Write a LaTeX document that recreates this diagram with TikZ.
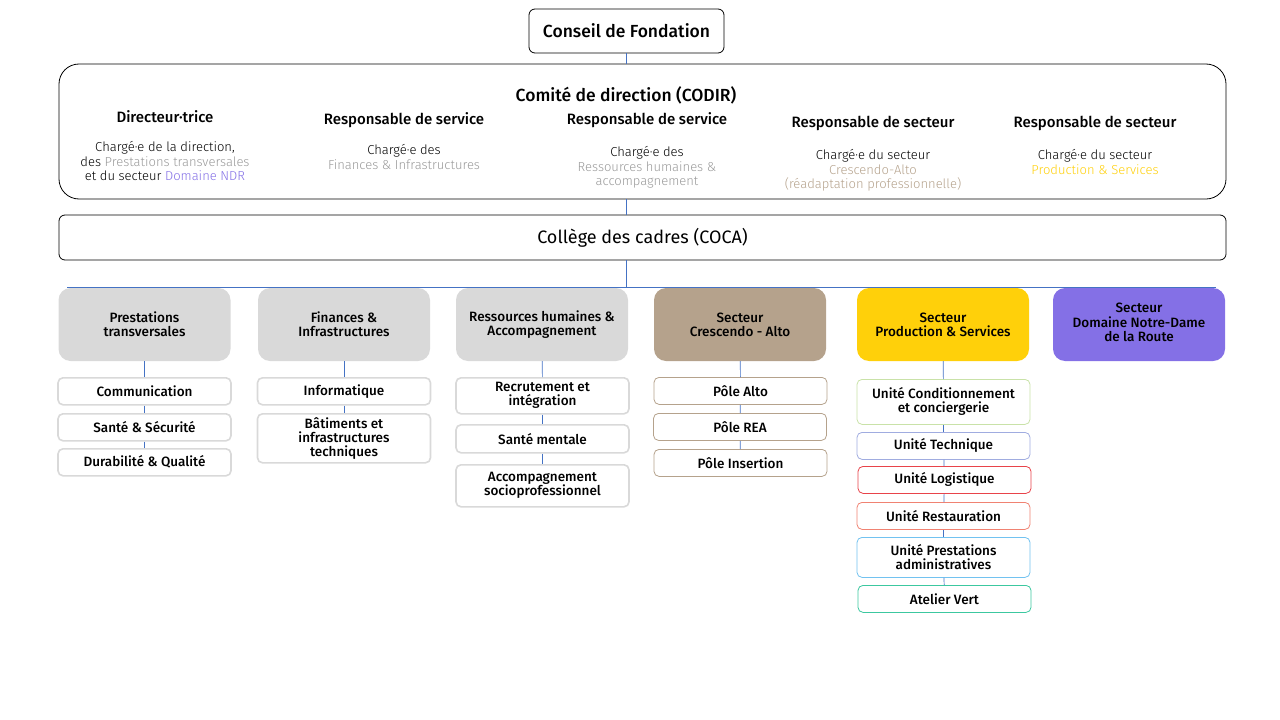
\documentclass[tikz,border=0pt]{standalone}
\usepackage{fontspec}
\setmainfont{Fira Sans}[BoldFont={Fira Sans Medium}]
\newfontfamily\lightfont{Fira Sans Light}
\usetikzlibrary{positioning}
\definecolor{linkblue}{HTML}{4472C4}
\definecolor{boxgray}{HTML}{D9D9D9}
\definecolor{descgray}{HTML}{9A9A9A}
\definecolor{crescendo}{HTML}{B5A28C}
\definecolor{production}{HTML}{FFD00A}
\definecolor{domaine}{HTML}{8470E6}
\definecolor{ucond}{HTML}{C9E2A8}
\definecolor{utech}{HTML}{A0ACE0}
\definecolor{ulog}{HTML}{E8434A}
\definecolor{urest}{HTML}{F08272}
\definecolor{uadmin}{HTML}{72C2F0}
\definecolor{uvert}{HTML}{3CC8A0}

\begin{document}
\begin{tikzpicture}[x=1pt,y=-1pt,
    box/.style={draw, rounded corners=6pt, line width=0.8pt},
    role/.style={font=\fontsize{15}{17}\selectfont\bfseries, align=center},
    desc/.style={font=\fontsize{13}{14.5}\lightfont, align=center, anchor=north},
    dept/.style={rounded corners=12pt, minimum width=172pt, minimum height=73pt,
        align=center, font=\fontsize{13.5}{14}\selectfont\bfseries, inner sep=2pt},
    unit/.style={draw=#1, fill=white, rounded corners=5pt, line width=0.8pt,
        minimum width=173pt, minimum height=27pt, align=center, anchor=north,
        font=\fontsize{13.5}{14}\selectfont\bfseries, inner sep=3pt},
    unit/.default=boxgray,
    service/.style={unit=boxgray, line width=1.6pt},
    link/.style={draw=linkblue, line width=0.7pt}]
  \useasboundingbox (0,0) rectangle (1280,720);

  % top of the organisation
  \node[box, minimum width=195pt, minimum height=44pt, font=\fontsize{17.5}{20}\selectfont\bfseries] (conseil) at (626.5,31) {Conseil de Fondation};
  \node[box, rounded corners=20pt, minimum width=1167pt, minimum height=135pt] (codir) at (642.5,131.5) {};
  \node[font=\fontsize{17.5}{20}\selectfont\bfseries] (codirtitle) at (626,95) {Comité de direction (CODIR)};

  % members of the CODIR
  \node[role] (dir) at (165,117) {Directeur·trice};
  \node[desc] (dirdesc) at (165,138) {Chargé·e de la direction,\\des \textcolor{descgray}{Prestations transversales}\\et du secteur \textcolor{domaine}{Domaine NDR}};
  \node[role] (rsfin) at (404,120) {Responsable de service};
  \node[desc] (rsfindesc) at (404,141) {Chargé·e des\\\textcolor{descgray}{Finances \& Infrastructures}};
  \node[role] (rsrh) at (647,120) {Responsable de service};
  \node[desc] (rsrhdesc) at (647,143) {Chargé·e des\\\textcolor{descgray}{Ressources humaines \&}\\\textcolor{descgray}{accompagnement}};
  \node[role] (rscre) at (873,123) {Responsable de secteur};
  \node[desc] (rscredesc) at (873,146) {Chargé·e du secteur\\\textcolor{crescendo}{Crescendo-Alto}\\\textcolor{crescendo}{(réadaptation professionnelle)}};
  \node[role] (rsprod) at (1095,123) {Responsable de secteur};
  \node[desc] (rsproddesc) at (1095,146) {Chargé·e du secteur\\\textcolor{production}{Production \& Services}};

  \node[box, minimum width=1167pt, minimum height=45pt, font=\fontsize{18}{20}\selectfont] (coca) at (642.5,237.5) {Collège des cadres (COCA)};

  % links between the councils
  \draw[link] (conseil.south) -- (conseil.south |- codir.north);
  \draw[link] (codir.south -| conseil) -- (coca.north -| conseil);
  \coordinate (barmid) at (626,287);
  \coordinate (barL) at (67,287);
  \coordinate (barR) at (1216,287);
  \draw[link] (coca.south -| barmid) -- (barmid);
  \draw[link] (barL) -- (barR);

  % services and sectors
  \node[dept, fill=boxgray] (pt) at (144.5,324.5) {Prestations\\transversales};
  \node[dept, fill=boxgray] (fin) at (344,324.5) {Finances \&\\Infrastructures};
  \node[dept, fill=boxgray] (rh) at (542,324.5) {Ressources humaines \&\\Accompagnement};
  \node[dept, fill=crescendo] (cre) at (740,324.5) {Secteur\\Crescendo - Alto};
  \node[dept, fill=production] (prod) at (943,324.5) {Secteur\\Production \& Services};
  \node[dept, fill=domaine] (ndr) at (1139,324.5) {\raisebox{4pt}{\begin{tabular}{@{}c@{}}Secteur\\Domaine Notre-Dame\\de la Route\end{tabular}}};

  % Prestations transversales
  \node[service] (pt1) at (144.5,377) {Communication};
  \node[service] (pt2) at (144.5,413) {Santé \& Sécurité};
  \node[service] (pt3) at (144.5,448) {Durabilité \& Qualité};
  % Finances & Infrastructures
  \node[service] (fin1) at (344,377) {Informatique};
  \node[service, minimum height=49pt] (fin2) at (344,413) {Bâtiments et\\infrastructures\\techniques};
  % Ressources humaines
  \node[service, minimum height=36pt] (rh1) at (542.5,377) {Recrutement et\\intégration};
  \node[service, minimum height=28pt] (rh2) at (542.5,424) {Santé mentale};
  \node[service, minimum height=42pt] (rh3) at (542.5,464) {Accompagnement\\socioprofessionnel};
  % Crescendo - Alto
  \node[unit=crescendo] (cre1) at (740.5,377) {Pôle Alto};
  \node[unit=crescendo] (cre2) at (740,413) {Pôle REA};
  \node[unit=crescendo] (cre3) at (740.5,449) {Pôle Insertion};
  % Production & Services
  \node[unit=ucond, minimum height=45pt] (prod1) at (943.5,379) {Unité Conditionnement\\et conciergerie};
  \node[unit=utech] (prod2) at (943.5,432) {Unité Technique};
  \node[unit=ulog] (prod3) at (944.5,466) {Unité Logistique};
  \node[unit=urest] (prod4) at (943.5,502) {Unité Restauration};
  \node[unit=uadmin, minimum height=40pt] (prod5) at (943.5,537) {Unité Prestations\\administratives};
  \node[unit=uvert] (prod6) at (944.5,585) {Atelier Vert};

  \foreach \a/\b in {pt/pt1, pt1/pt2, pt2/pt3, fin/fin1, fin1/fin2, rh/rh1, rh1/rh2, rh2/rh3,
      cre/cre1, cre1/cre2, cre2/cre3, prod/prod1, prod1/prod2, prod2/prod3, prod3/prod4,
      prod4/prod5, prod5/prod6}
    \draw[link] (\a) -- (\b);
\end{tikzpicture}
\end{document}
